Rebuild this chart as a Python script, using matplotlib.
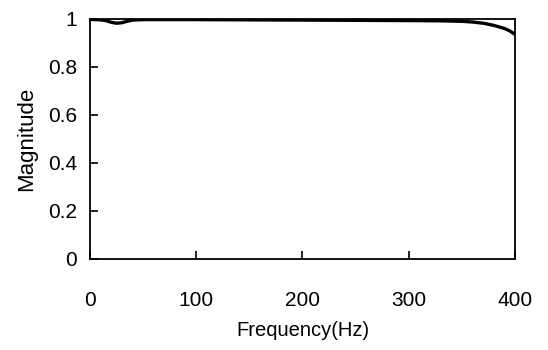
import matplotlib
matplotlib.use("Agg")
import matplotlib.pyplot as plt

# frequency response
freq = [0, 5, 10, 15, 20, 25, 30, 35, 40, 50, 75, 100, 150, 200, 250,
        300, 330, 350, 360, 370, 380, 390, 395, 400]
mag = [0.998, 0.997, 0.996, 0.993, 0.986, 0.982, 0.984, 0.990, 0.995,
       0.997, 0.997, 0.997, 0.996, 0.995, 0.994, 0.993, 0.992, 0.990,
       0.987, 0.982, 0.973, 0.960, 0.950, 0.935]

xticks = [0, 100, 200, 300, 400]
yticks = [0, 0.2, 0.4, 0.6, 0.8, 1]
ytick_labels = ["0", "0.2", "0.4", "0.6", "0.8", "1"]

plt.rcParams["font.family"] = ["Liberation Sans", "DejaVu Sans"]

fig = plt.figure(figsize=(5.48, 3.50), dpi=100)
ax = fig.add_axes([0.164, 0.26, 0.776, 0.686])

ax.plot(freq, mag, color="black", linewidth=2.4)

ax.set_xlim(0, 400)
ax.set_ylim(0, 1)
ax.set_xticks(xticks)
ax.set_yticks(yticks)
ax.set_yticklabels(ytick_labels)
ax.tick_params(axis="both", direction="in", length=6, width=1.2,
               labelsize=15, top=False, right=False)
ax.tick_params(axis="x", pad=23)
ax.tick_params(axis="y", pad=9)
for s in ax.spines.values():
    s.set_linewidth(1.3)

ax.set_xlabel("Frequency(Hz)", fontsize=14.5, labelpad=8)
ax.set_ylabel("Magnitude", fontsize=16, labelpad=8)

fig.savefig("out.png", dpi=100)
